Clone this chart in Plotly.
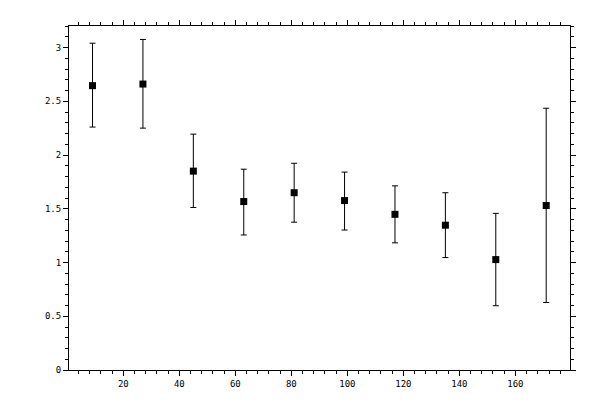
import plotly.graph_objects as go

x_vals = [9, 27, 45, 63, 81, 99, 117, 135, 153, 171]
y_vals = [2.645, 2.66, 1.85, 1.567, 1.649, 1.576, 1.448, 1.347, 1.027, 1.53]
y_upper = [3.04, 3.075, 2.194, 1.868, 1.923, 1.841, 1.713, 1.649, 1.457, 2.435]
y_lower = [2.26, 2.25, 1.512, 1.256, 1.375, 1.302, 1.183, 1.046, 0.598, 0.628]

err_plus = [u - y for u, y in zip(y_upper, y_vals)]
err_minus = [y - l for y, l in zip(y_vals, y_lower)]

fig = go.Figure()
fig.add_trace(go.Scatter(
    x=x_vals, y=y_vals, mode="markers",
    marker=dict(symbol="square", size=7, color="black", line=dict(width=0)),
    error_y=dict(type="data", symmetric=False, array=err_plus, arrayminus=err_minus,
                 color="black", thickness=1, width=3),
    showlegend=False,
))

font = dict(family="DejaVu Sans Mono", size=9, color="black")
fig.update_layout(
    width=600, height=400,
    margin=dict(l=61, r=38, t=12, b=38),
    paper_bgcolor="white", plot_bgcolor="white",
    font=font,
    xaxis=dict(range=[0.6, 179.5], tick0=0, dtick=20, ticks="outside", ticklen=5,
               tickwidth=1, tickcolor="black", showline=True, linecolor="black",
               linewidth=1, mirror="allticks", showgrid=False, zeroline=False,
               tickfont=font,
               minor=dict(tick0=0, dtick=4, ticks="outside", ticklen=3, tickcolor="black",
                          showgrid=False)),
    yaxis=dict(range=[0, 3.2], tick0=0, dtick=0.5, ticks="outside", ticklen=5,
               tickwidth=1, tickcolor="black", showline=True, linecolor="black",
               linewidth=1, mirror="allticks", showgrid=False, zeroline=False,
               tickfont=font,
               minor=dict(tick0=0, dtick=0.1, ticks="outside", ticklen=3, tickcolor="black",
                          showgrid=False)),
)

fig.write_html("out.html")
